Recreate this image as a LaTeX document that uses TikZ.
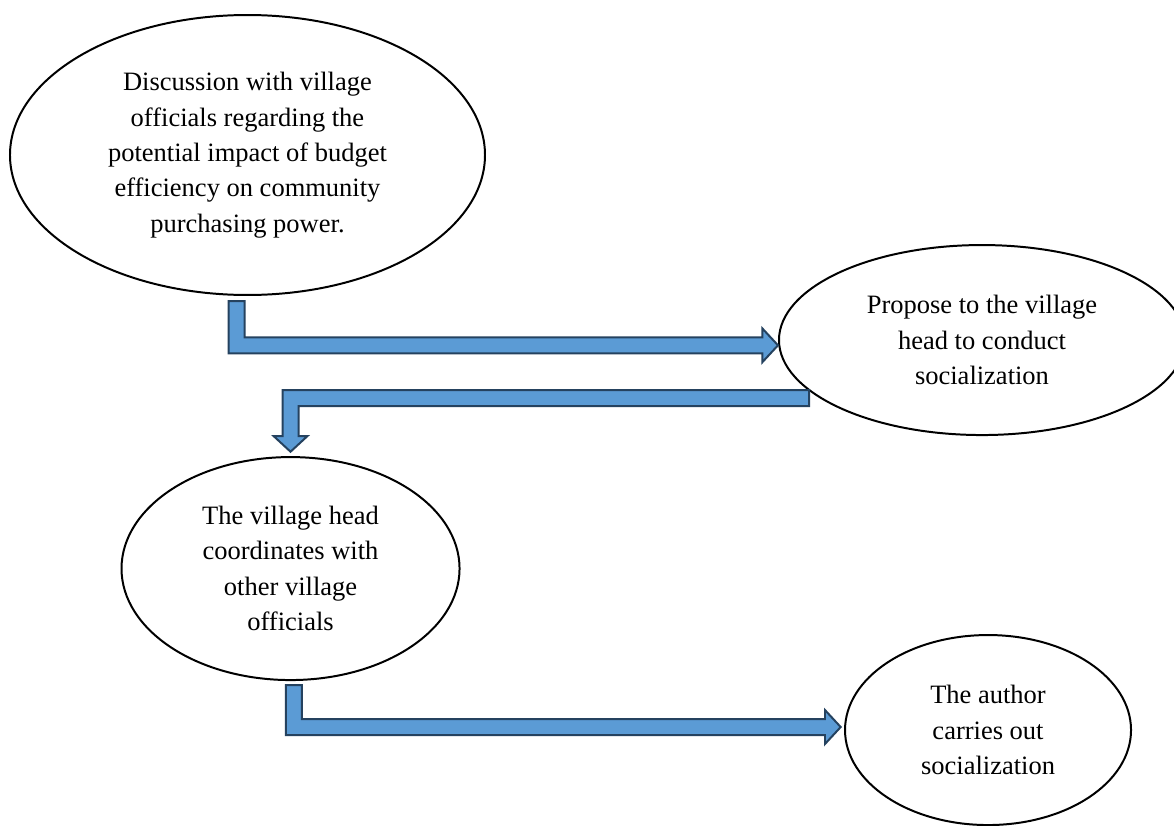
\documentclass[tikz,border=0pt]{standalone}
\usepackage{fontspec}
\setmainfont{Liberation Serif}
\usepackage{xcolor}
\usepackage{tikz}
\usetikzlibrary{shapes.geometric, calc, positioning}

\definecolor{arrowfill}{HTML}{5B9BD5}
\definecolor{arrowline}{HTML}{25425F}

% block arrow sizes
\def\shafthalf{0.127cm}
\def\headlen{0.25cm}
\def\headhalf{0.27cm}

% bent block arrow: down from #1, then right to the tip #2
\newcommand{\elbowright}[2]{%
  \draw[blockarrow] let \p1=(#1), \p2=(#2) in
    (\x1-\shafthalf,\y1) -- (\x1+\shafthalf,\y1) -- (\x1+\shafthalf,\y2+\shafthalf)
    -- (\x2-\headlen,\y2+\shafthalf) -- (\x2-\headlen,\y2+\headhalf) -- (\x2,\y2)
    -- (\x2-\headlen,\y2-\headhalf) -- (\x2-\headlen,\y2-\shafthalf)
    -- (\x1-\shafthalf,\y2-\shafthalf) -- cycle;}

% bent block arrow: left from #1, then down to the tip #2
\newcommand{\elbowdown}[2]{%
  \draw[blockarrow] let \p1=(#1), \p2=(#2) in
    (\x1,\y1+\shafthalf) -- (\x2-\shafthalf,\y1+\shafthalf) -- (\x2-\shafthalf,\y2+\headlen)
    -- (\x2-\headhalf,\y2+\headlen) -- (\x2,\y2) -- (\x2+\headhalf,\y2+\headlen)
    -- (\x2+\shafthalf,\y2+\headlen) -- (\x2+\shafthalf,\y1-\shafthalf)
    -- (\x1,\y1-\shafthalf) -- cycle;}

\begin{document}
\begin{tikzpicture}[
    % Styles
    stage/.style={
        ellipse,
        draw=black,
        fill=white,
        line width=0.9pt,
        inner sep=0pt,
        align=center,
        font=\fontsize{12}{16}\selectfont
    },
    blockarrow/.style={
        fill=arrowfill,
        draw=arrowline,
        line width=0.9pt,
        line join=miter
    }
]
\clip (0,0) rectangle (18.685,13.131);

% Stages
\node[stage, minimum width=7.56cm, minimum height=4.456cm] (disc) at (3.939,10.664) {
    Discussion with village\\
    officials regarding the\\
    potential impact of budget\\
    efficiency on community\\
    purchasing power.
};

\node[stage, minimum width=6.462cm, minimum height=3.024cm] (prop) at (15.629,7.719) {
    Propose to the village\\
    head to conduct\\
    socialization
};

\node[stage, minimum width=5.38cm, minimum height=3.549cm] (coord) at (4.624,4.082) {
    The village head\\
    coordinates with\\
    other village\\
    officials
};

\node[stage, minimum width=4.552cm, minimum height=3.024cm] (auth) at (15.725,1.512) {
    The author\\
    carries out\\
    socialization
};

% Arrows
\elbowright{[shift={(-0.172,-0.08)}]disc.south}{[yshift=-0.084cm]prop.west}
\elbowdown{[shift={(0.494,-0.923)}]prop.west}{[yshift=0.069cm]coord.north}
\elbowright{[shift={(0.052,-0.063)}]coord.south}{[shift={(-0.053,0.048)}]auth.west}

\end{tikzpicture}
\end{document}
